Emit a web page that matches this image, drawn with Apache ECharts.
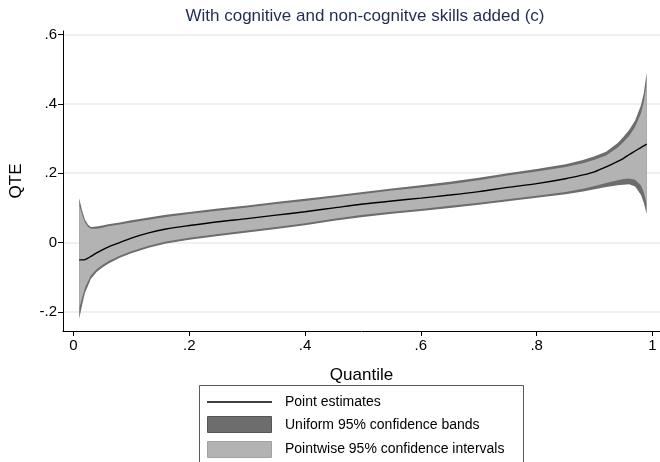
<!DOCTYPE html>
<html>
<head>
<meta charset="utf-8">
<script src="https://cdn.jsdelivr.net/npm/echarts@6/dist/echarts.min.js"></script>
<style>
  html, body { margin: 0; padding: 0; background: #ffffff; }
  #chart { width: 660px; height: 462px; }
</style>
</head>
<body>
<div id="chart"></div>
<script>
// Quantile treatment effects with confidence regions
const quantiles = [0.01, 0.015, 0.02, 0.025, 0.03, 0.04, 0.05, 0.06, 0.08, 0.10, 0.13, 0.16, 0.20, 0.25, 0.30, 0.35, 0.40, 0.45, 0.50, 0.55, 0.60, 0.65, 0.70, 0.75, 0.80, 0.85, 0.88, 0.90, 0.92, 0.94, 0.95, 0.96, 0.97, 0.98, 0.985, 0.99];
const pointEstimate = [-0.050, -0.050, -0.049, -0.045, -0.040, -0.030, -0.021, -0.013, 0.000, 0.013, 0.028, 0.039, 0.049, 0.060, 0.069, 0.079, 0.089, 0.100, 0.111, 0.120, 0.128, 0.137, 0.147, 0.159, 0.170, 0.184, 0.195, 0.204, 0.218, 0.234, 0.243, 0.254, 0.264, 0.274, 0.279, 0.284];
const uniformLower = [-0.220, -0.180, -0.145, -0.125, -0.105, -0.085, -0.072, -0.061, -0.044, -0.031, -0.015, -0.003, 0.008, 0.019, 0.029, 0.039, 0.050, 0.063, 0.074, 0.083, 0.091, 0.100, 0.109, 0.119, 0.129, 0.139, 0.147, 0.154, 0.160, 0.165, 0.167, 0.168, 0.162, 0.138, 0.115, 0.082];
const uniformUpper = [0.128, 0.092, 0.066, 0.052, 0.045, 0.046, 0.049, 0.053, 0.058, 0.064, 0.072, 0.080, 0.088, 0.098, 0.107, 0.117, 0.126, 0.136, 0.146, 0.156, 0.165, 0.175, 0.187, 0.200, 0.212, 0.226, 0.238, 0.249, 0.262, 0.287, 0.305, 0.325, 0.352, 0.395, 0.430, 0.490];
const pointwiseLower = [-0.190, -0.160, -0.130, -0.112, -0.095, -0.077, -0.065, -0.054, -0.038, -0.025, -0.009, 0.003, 0.014, 0.025, 0.035, 0.045, 0.056, 0.069, 0.080, 0.089, 0.097, 0.106, 0.115, 0.125, 0.135, 0.146, 0.155, 0.163, 0.172, 0.180, 0.183, 0.185, 0.181, 0.165, 0.145, 0.112];
const pointwiseUpper = [0.108, 0.080, 0.058, 0.046, 0.040, 0.040, 0.043, 0.047, 0.052, 0.058, 0.066, 0.074, 0.082, 0.092, 0.101, 0.111, 0.120, 0.130, 0.140, 0.150, 0.159, 0.168, 0.180, 0.193, 0.205, 0.218, 0.229, 0.239, 0.251, 0.274, 0.290, 0.308, 0.333, 0.372, 0.405, 0.460];

const xTicks = [0, 0.2, 0.4, 0.6, 0.8, 1];
const yTicks = [-0.2, 0, 0.2, 0.4, 0.6];

const titleText = 'With cognitive and non-cognitve skills added (c)';
const legendLabels = ['Point estimates', 'Uniform 95% confidence bands', 'Pointwise 95% confidence intervals'];

const DARK = '#6d6d6d';
const LIGHT = '#b3b3b3';
const FONT = '"Liberation Sans", Arial, Helvetica, sans-serif';

// Stata-style numbers: drop the leading zero (.2, -.2)
function shortNum(v) {
  const r = Math.round(v * 100) / 100;
  if (r === 0) return '0';
  return String(r).replace(/^(-?)0\./, '$1.');
}

// A filled band between two bounds, drawn as one polygon in data space
function band(name, lower, upper, color) {
  return {
    type: 'custom',
    name: name,
    coordinateSystem: 'cartesian2d',
    silent: true,
    data: quantiles.map((q, i) => [q, lower[i], upper[i]]),
    encode: { x: 0, y: [1, 2] },
    renderItem: function (params, api) {
      if (params.dataIndex !== 0) return null;
      const top = quantiles.map((q, i) => api.coord([q, upper[i]]));
      const bottom = quantiles.map((q, i) => api.coord([q, lower[i]])).reverse();
      return {
        type: 'polygon',
        shape: { points: top.concat(bottom) },
        style: { fill: color, stroke: null }
      };
    }
  };
}

const chart = echarts.init(document.getElementById('chart'), null, { renderer: 'canvas' });

chart.setOption({
  animation: false,
  backgroundColor: '#ffffff',
  textStyle: { fontFamily: FONT },
  title: {
    text: titleText,
    left: 360,
    top: 3,
    textAlign: 'center',
    textStyle: { fontFamily: FONT, fontSize: 17, fontWeight: 'normal', color: '#1f2d4f' }
  },
  grid: { left: 59, right: 0, top: 31, bottom: 131, containLabel: false },
  xAxis: {
    type: 'value',
    min: -0.018,
    max: 1.013,
    name: 'Quantile',
    nameLocation: 'middle',
    nameGap: 36,
    nameTextStyle: { fontFamily: FONT, fontSize: 17, color: '#000' },
    axisLine: { show: true, onZero: false, lineStyle: { color: '#000', width: 1 } },
    axisTick: { show: true, customValues: xTicks, length: 5, lineStyle: { color: '#000' } },
    axisLabel: { customValues: xTicks, formatter: shortNum, fontSize: 15, color: '#000', margin: 7, fontFamily: FONT },
    splitLine: { show: false }
  },
  yAxis: {
    type: 'value',
    min: -0.255,
    max: 0.61,
    name: 'QTE',
    nameLocation: 'middle',
    nameGap: 38,
    nameRotate: 90,
    nameTextStyle: { fontFamily: FONT, fontSize: 17, color: '#000' },
    axisLine: { show: true, onZero: false, lineStyle: { color: '#000', width: 1 } },
    axisTick: { show: true, customValues: yTicks, length: 5, lineStyle: { color: '#000' } },
    axisLabel: { customValues: yTicks, formatter: shortNum, fontSize: 15, color: '#000', margin: 6, fontFamily: FONT },
    splitLine: { show: true, lineStyle: { color: '#e6eef0', width: 1.5 } }
  },
  series: [
    band('Uniform 95% confidence bands', uniformLower, uniformUpper, DARK),
    band('Pointwise 95% confidence intervals', pointwiseLower, pointwiseUpper, LIGHT),
    {
      type: 'line',
      name: 'Point estimates',
      data: quantiles.map((q, i) => [q, pointEstimate[i]]),
      showSymbol: false,
      smooth: 0.3,
      lineStyle: { color: '#000', width: 1.4 },
      silent: true
    }
  ],
  graphic: [
    { type: 'rect', shape: { x: 199.5, y: 385.5, width: 324, height: 90 }, style: { fill: '#fff', stroke: '#5a5a5a', lineWidth: 1 } },
    { type: 'line', shape: { x1: 207, y1: 402, x2: 272, y2: 402 }, style: { stroke: '#000', lineWidth: 1.5 } },
    { type: 'rect', shape: { x: 207.5, y: 416.5, width: 64, height: 16 }, style: { fill: DARK, stroke: '#555', lineWidth: 1 } },
    { type: 'rect', shape: { x: 207.5, y: 441.5, width: 64, height: 16 }, style: { fill: LIGHT, stroke: '#a2a2a2', lineWidth: 1 } },
    { type: 'text', x: 285, y: 402, style: { text: legendLabels[0], fontFamily: FONT, fontSize: 14, fill: '#000', verticalAlign: 'middle' } },
    { type: 'text', x: 285, y: 425, style: { text: legendLabels[1], fontFamily: FONT, fontSize: 14, fill: '#000', verticalAlign: 'middle' } },
    { type: 'text', x: 285, y: 449, style: { text: legendLabels[2], fontFamily: FONT, fontSize: 14, fill: '#000', verticalAlign: 'middle' } }
  ]
});
</script>
</body>
</html>
